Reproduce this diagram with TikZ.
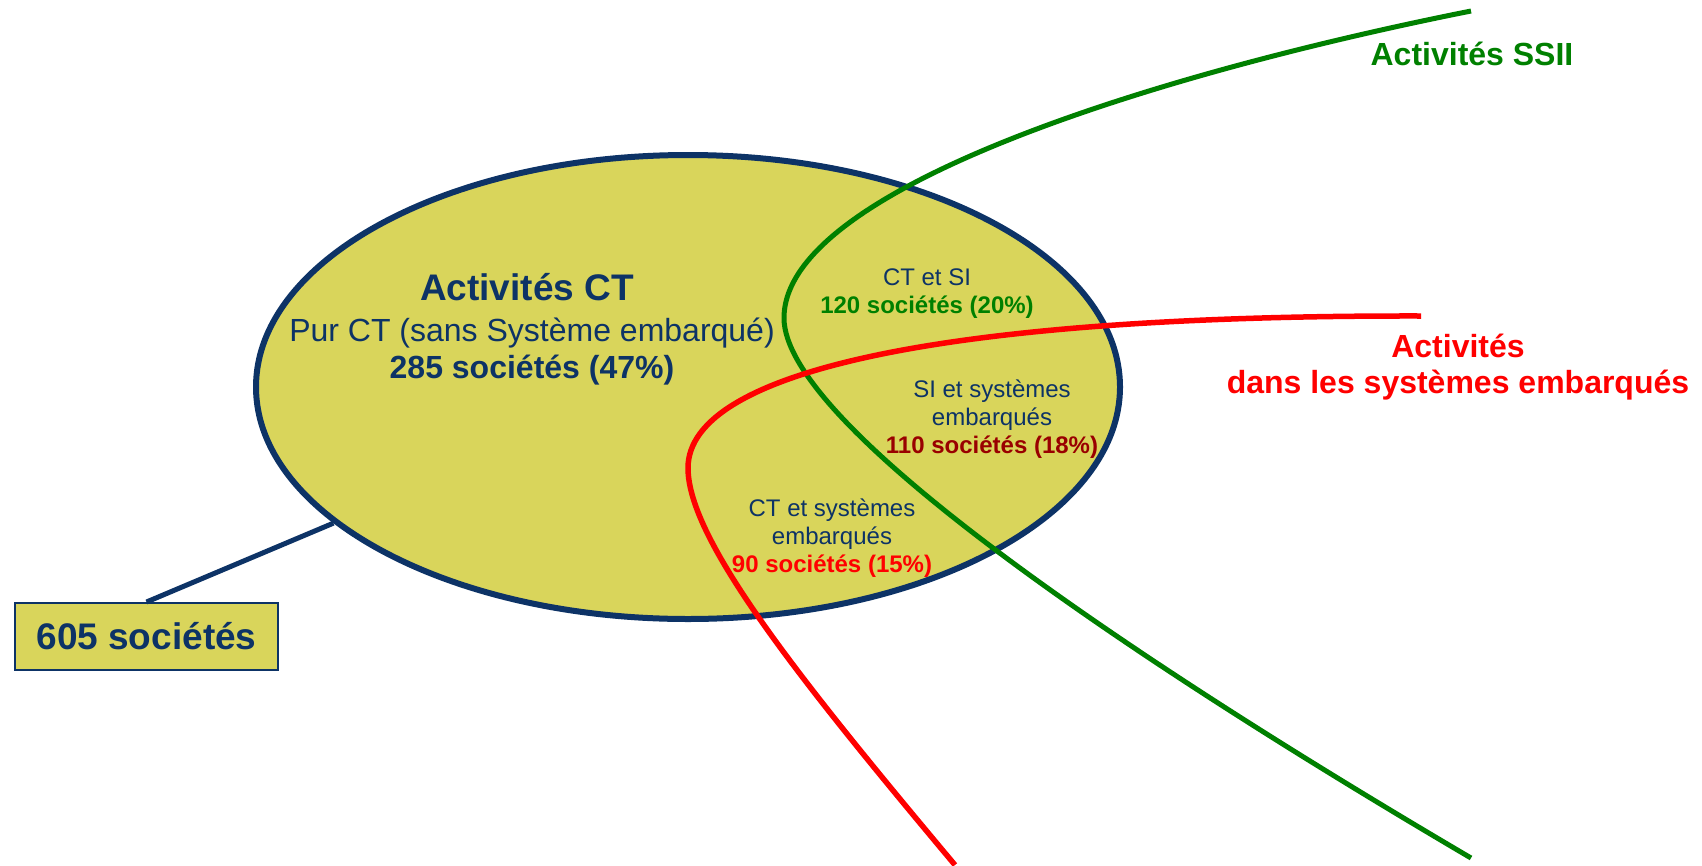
\documentclass[tikz,border=0pt]{standalone}
\usepackage{fontspec}
\setmainfont{Liberation Sans}
\usetikzlibrary{shapes.geometric}
\definecolor{ctblue}{HTML}{0D3366}
\definecolor{ctfill}{HTML}{D9D55B}
\definecolor{ssgreen}{HTML}{008000}
\definecolor{embred}{HTML}{FF0000}
\definecolor{darkred}{HTML}{990000}

\begin{document}
\begin{tikzpicture}[x=1pt, y=-1pt,
    every node/.style={inner sep=0pt},
    zone/.style={align=center, text=ctblue, font=\fontsize{24}{28}\selectfont},
    tag/.style={align=center, font=\fontsize{32}{36}\selectfont\bfseries},
    ssii/.style={draw=ssgreen, line width=5pt},
    emb/.style={draw=embred, line width=5.5pt}
]
\useasboundingbox (0,0) rectangle (1702,865);

\node (ct) [ellipse, draw=ctblue, line width=6pt, fill=ctfill,
    minimum width=864pt, minimum height=464pt] at (688,387) {};
\node (n605) [draw=ctblue, line width=2pt, fill=ctfill, text=ctblue,
    minimum width=263pt, minimum height=67pt,
    font=\fontsize{37}{40}\selectfont\bfseries] at (146.5,636.5) {605 sociétés};
\draw[ctblue, line width=5pt] (n605.north) -- (ct.201);

% SSII and embedded curves
\draw[ssii] (1471,11) .. controls (1150,75) and (784,190) .. (784,318)
    .. controls (784,420) and (1100,640) .. (1471,858);
\draw[emb] (1421,316) .. controls (950,315) and (688,370) .. (688,468)
    .. controls (688,540) and (800,680) .. (955,865);

\node (pur) [align=center, text=ctblue, anchor=base,
    font=\fontsize{32}{37}\selectfont] at (532,378)
    {{\fontsize{37}{44}\selectfont\bfseries Activités CT\kern10pt}\\[4pt]
     Pur CT (sans Système embarqué)\\
     \textbf{285 sociétés (47\%)}};
\node (ctsi) [zone, anchor=base] at (927,313)
    {CT et SI\\ \textcolor{ssgreen}{\bfseries 120 sociétés (20\%)}};
\node (siemb) [zone, anchor=base] at (992,453)
    {SI et systèmes\\embarqués\\ \textcolor{darkred}{\bfseries 110 sociétés (18\%)}};
\node (ctemb) [zone, anchor=base] at (832,572)
    {CT et systèmes\\embarqués\\ \textcolor{embred}{\bfseries 90 sociétés (15\%)}};

\node (lssii) [tag, text=ssgreen, anchor=base] at (1472,65) {Activités SSII};
\node (lemb) [tag, text=embred, anchor=base] at (1458,393)
    {Activités\\dans les systèmes embarqués};
\end{tikzpicture}
\end{document}
